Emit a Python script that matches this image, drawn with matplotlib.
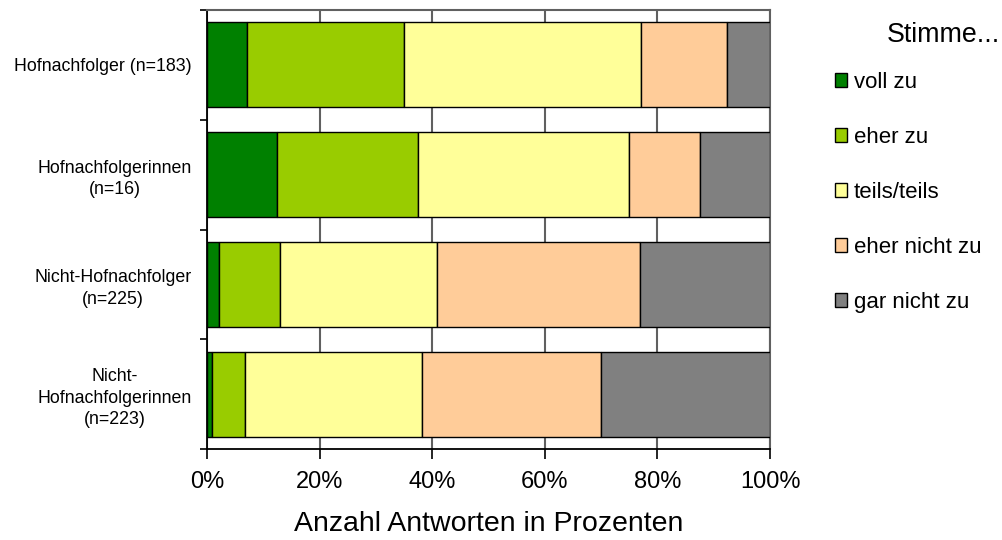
import numpy as np
import matplotlib
matplotlib.use('Agg')
import matplotlib.pyplot as plt
from matplotlib.patches import Patch

plt.rcParams['font.family'] = ['Liberation Sans', 'DejaVu Sans']

# Gruppen (von oben nach unten)
gruppen = ['Hofnachfolger (n=183)',
           'Hofnachfolgerinnen\n(n=16)',
           'Nicht-Hofnachfolger\n(n=225)',
           'Nicht-\nHofnachfolgerinnen\n(n=223)']

# Antwortkategorien und Farben
kategorien = ['voll zu', 'eher zu', 'teils/teils', 'eher nicht zu', 'gar nicht zu']
farben = ['#008000', '#99CC00', '#FFFF99', '#FFCC99', '#808080']

# Anteile in Prozent je Gruppe
voll_zu = [7.1, 12.5, 2.2, 0.9]
eher_zu = [27.9, 25.0, 10.7, 5.8]
teils_teils = [42.1, 37.5, 28.0, 31.4]
eher_nicht_zu = [15.3, 12.5, 36.0, 31.8]
gar_nicht_zu = [7.6, 12.5, 23.1, 30.1]

werte = [voll_zu, eher_zu, teils_teils, eher_nicht_zu, gar_nicht_zu]

fig = plt.figure(figsize=(10.02, 5.4), dpi=100)
ax = fig.add_axes([207/1002, 1 - 449/540, 563/1002, 439/540])

y = np.arange(len(gruppen))
links = np.zeros(len(gruppen))
for vals, farbe, name in zip(werte, farben, kategorien):
    ax.barh(y, vals, left=links, height=0.775, color=farbe,
            edgecolor='black', linewidth=1, label=name, zorder=3)
    links += np.array(vals)

ax.set_xlim(0, 100)
ax.set_ylim(len(gruppen) - 0.5, -0.5)

# x-Achse
ax.set_xticks([0, 20, 40, 60, 80, 100])
ax.set_xticklabels(['0%', '20%', '40%', '60%', '80%', '100%'], fontsize=17)
ax.tick_params(axis='x', direction='out', length=7, width=1.2, pad=9)
ax.xaxis.grid(True, color='#606060', linewidth=1.5, zorder=0)
ax.set_xlabel('Anzahl Antworten in Prozenten', fontsize=20.5, labelpad=13)

# y-Achse: Striche zwischen den Gruppen, Beschriftung mittig
ax.set_yticks(np.arange(len(gruppen) + 1) - 0.5)
ax.set_yticklabels([])
ax.tick_params(axis='y', which='major', direction='out', length=5, width=1.2)
ax.set_yticks(y, minor=True)
ax.set_yticklabels(gruppen, minor=True, fontsize=12.8,
                   multialignment='center', linespacing=1.35)
ax.tick_params(axis='y', which='minor', length=0, pad=11)

for s in ['left', 'bottom']:
    ax.spines[s].set_color('black')
    ax.spines[s].set_linewidth(1.3)
for s in ['top', 'right']:
    ax.spines[s].set_color('#606060')
    ax.spines[s].set_linewidth(1.5)

# Legende
handles = [Patch(facecolor=f, edgecolor='black', linewidth=1) for f in farben]
leg = fig.legend(handles, kategorien, loc='upper left',
                 bbox_to_anchor=(826/1002, 1 - 63/540), frameon=False,
                 fontsize=16, handlelength=0.55, handleheight=0.55,
                 handletextpad=0.3, labelspacing=1.53, borderaxespad=0)
fig.text(1000/1002, 1 - 35/540, 'Stimme...', fontsize=19.3,
         ha='right', va='center')

fig.savefig('out.png', dpi=100)
